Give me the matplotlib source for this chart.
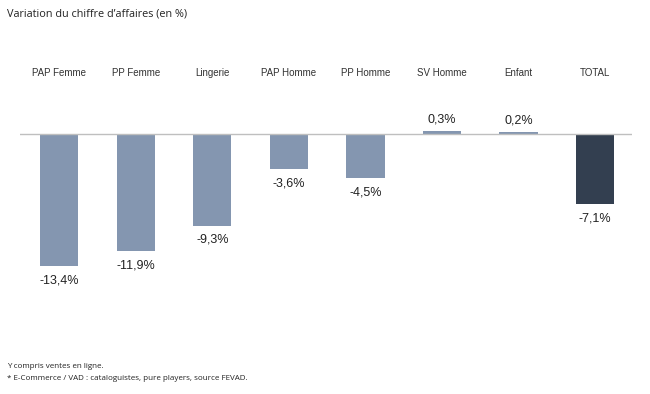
import matplotlib.pyplot as plt
import matplotlib.transforms as mtransforms

categories = ["PAP Femme", "PP Femme", "Lingerie", "PAP Homme", "PP Homme", "SV Homme", "Enfant", "TOTAL"]
values = [-13.4, -11.9, -9.3, -3.6, -4.5, 0.3, 0.2, -7.1]
labels = ["-13,4%", "-11,9%", "-9,3%", "-3,6%", "-4,5%", "0,3%", "0,2%", "-7,1%"]

bar_color = "#8496B0"
total_color = "#333F50"
colors = [total_color if c == "TOTAL" else bar_color for c in categories]

W, H = 650, 394
fig = plt.figure(figsize=(W / 100, H / 100), dpi=100)

# axes placed in pixel coordinates
x0, x1 = 20, 632
y_top, y_bot = 100, 290
ax = fig.add_axes([x0 / W, 1 - y_bot / H, (x1 - x0) / W, (y_bot - y_top) / H])
px_per_unit = 9.85
zero_y = 134
ax.set_ylim(-(y_bot - zero_y) / px_per_unit, (zero_y - y_top) / px_per_unit)
ax.set_xlim(-0.51, 7.48)

x = list(range(len(categories)))
ax.bar(x, values, width=0.5, color=colors, zorder=2)
ax.axhline(0, color="#BFBFBF", linewidth=1, zorder=3)

for s in ax.spines.values():
    s.set_visible(False)
ax.set_xticks([])
ax.set_yticks([])

font = "Liberation Sans"
for xi, v, lab in zip(x, values, labels):
    if v < 0:
        ax.annotate(lab, (xi, v), xytext=(0, -6), textcoords="offset points",
                    ha="center", va="top", fontsize=9, family=font, color="#222222")
    else:
        ax.annotate(lab, (xi, v), xytext=(0, 4), textcoords="offset points",
                    ha="center", va="bottom", fontsize=9, family=font, color="#222222")

trans = mtransforms.blended_transform_factory(ax.transData, fig.transFigure)
for xi, c in zip(x, categories):
    ax.text(xi, 1 - 73 / H, c, transform=trans, ha="center", va="center",
            fontsize=7, family=font, color="#333333")

fig.text(7 / W, 1 - 14 / H, "Variation du chiffre d\u2019affaires (en %)",
         ha="left", va="center", fontsize=7.8, family="Open Sans", color="#222222")
fig.text(7 / W, 1 - 366 / H, "Y compris ventes en ligne.",
         ha="left", va="center", fontsize=5.8, family="Open Sans", color="#222222")
fig.text(7 / W, 1 - 379 / H, "* E-Commerce / VAD : cataloguistes, pure players, source FEVAD.",
         ha="left", va="center", fontsize=5.8, family="Open Sans", color="#222222")

fig.savefig("out.png", dpi=100)
